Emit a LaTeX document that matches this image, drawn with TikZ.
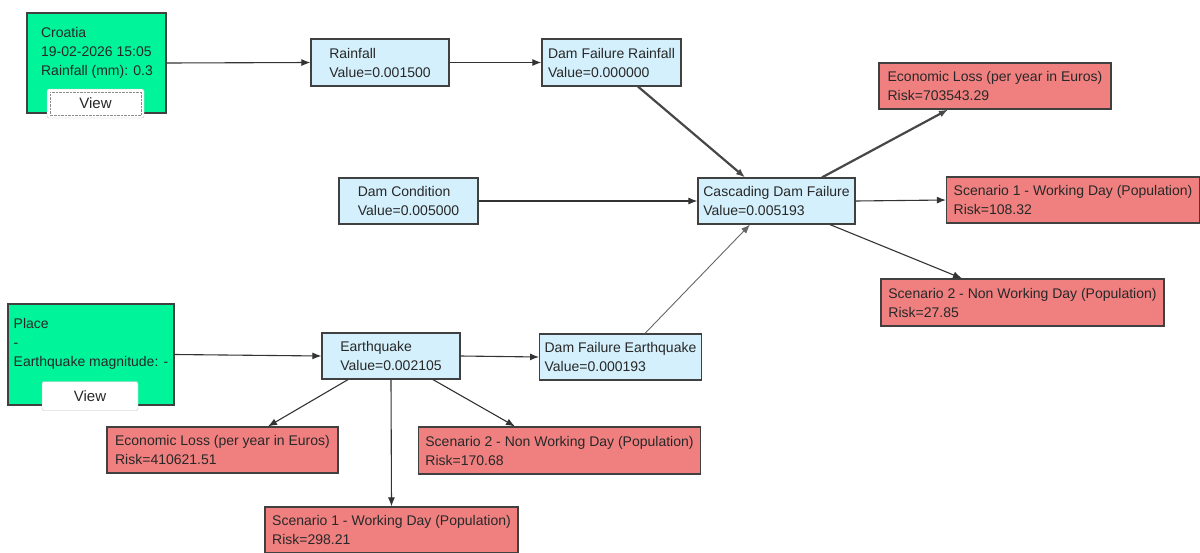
\documentclass[tikz,border=0pt]{standalone}
\usepackage{fontspec}
\setmainfont{Liberation Sans}
\usetikzlibrary{arrows.meta}

\definecolor{inputgreen}{RGB}{0,245,155}
\definecolor{valueblue}{RGB}{212,240,252}
\definecolor{riskred}{RGB}{240,128,128}
\definecolor{boxline}{RGB}{64,64,64}
\definecolor{textgrey}{RGB}{40,40,40}

\begin{document}
\begin{tikzpicture}[x=1pt, y=-1pt,
	every node/.style={font=\fontsize{14}{19}\selectfont, text=textgrey},
	inputbox/.style={draw=boxline, line width=1.2pt, fill=inputgreen, inner sep=0pt},
	valuebox/.style={draw=boxline, line width=1.2pt, fill=valueblue, align=left, minimum height=47pt, minimum width=138pt, inner xsep=5pt},
	riskbox/.style={draw=boxline, line width=1.2pt, fill=riskred, align=left, minimum height=46pt, inner xsep=7pt},
	viewbtn/.style={draw=black!25, fill=white, rounded corners=2pt, minimum height=29pt, font=\fontsize{15}{15}\selectfont},
	link/.style={draw=black!80, line width=1.1pt, -{Latex[length=9pt, width=7pt]}},
	heavylink/.style={link, draw=black!72, line width=2.2pt},
	faintlink/.style={link, draw=black!60, line width=0.9pt}
]
	\useasboundingbox (0,0) rectangle (1200,552);

	% input panels
	\node[inputbox, minimum width=139pt, minimum height=100pt] (croatia) at (96.5, 63) {};
	\node[align=left, anchor=north, inner sep=0pt] (croatiatxt) at (97, 27) {Croatia\\19-02-2026 15:05\\Rainfall (mm): 0.3};
	\node[viewbtn, minimum width=97pt] (viewa) at (95.5, 103.5) {View};
	\draw[densely dotted, black!45] ([shift={(3pt,3pt)}]viewa.south west) rectangle ([shift={(-3pt,-3pt)}]viewa.north east);

	\node[inputbox, minimum width=166pt, minimum height=101pt] (place) at (91, 354.5) {};
	\node[align=left, anchor=north, inner sep=0pt] (placetxt) at (91, 318) {Place\\-\\Earthquake magnitude: -};
	\node[viewbtn, minimum width=96pt] (viewb) at (90, 396) {View};

	% value nodes
	\node[valuebox] (rainfall) at (380, 62.5) {Rainfall\\Value=0.001500};
	\node[valuebox, minimum width=139pt] (dfr) at (611.5, 62.5) {Dam Failure Rainfall\\Value=0.000000};
	\node[valuebox, minimum width=139pt, minimum height=46pt] (damcond) at (408.5, 201) {Dam Condition\\Value=0.005000};
	\node[valuebox, minimum width=157pt, minimum height=46pt] (casc) at (776.5, 201) {Cascading Dam Failure\\Value=0.005193};
	\node[valuebox, minimum height=46pt] (quake) at (391, 356) {Earthquake\\Value=0.002105};
	\node[valuebox, minimum width=161pt, minimum height=46pt] (dfe) at (620.5, 357) {Dam Failure Earthquake\\Value=0.000193};

	% risk nodes
	\node[riskbox, minimum width=232pt] (lossa) at (995, 86) {Economic Loss (per year in Euros)\\Risk=703543.29};
	\node[riskbox, minimum width=253pt] (worka) at (1073, 200) {Scenario 1 - Working Day (Population)\\Risk=108.32};
	\node[riskbox, minimum width=283pt, minimum height=47pt] (nonworka) at (1022.5, 302.5) {Scenario 2 - Non Working Day (Population)\\Risk=27.85};
	\node[riskbox, minimum width=231pt] (lossb) at (222.5, 450) {Economic Loss (per year in Euros)\\Risk=410621.51};
	\node[riskbox, minimum width=281pt, minimum height=47pt] (nonworkb) at (559.5, 450.5) {Scenario 2 - Non Working Day (Population)\\Risk=170.68};
	\node[riskbox, minimum width=253pt] (workb) at (391.5, 530) {Scenario 1 - Working Day (Population)\\Risk=298.21};

	% Draw the edges between nodes
	\draw[link] (croatia.east) -- (rainfall.west);
	\draw[link] (rainfall.east) -- (dfr.west);
	\draw[heavylink] ([xshift=26.5pt]dfr.south) -- ([xshift=-31.5pt]casc.north);
	\draw[link] (damcond.east) -- (casc.west);
	\draw[heavylink] ([xshift=45.5pt]casc.north) -- ([xshift=-47pt]lossa.south);
	\draw[link] (casc.east) -- (worka.west);
	\draw[link] ([xshift=53.5pt]casc.south) -- ([xshift=-60.5pt]nonworka.north);
	\draw[link] (place.east) -- (quake.west);
	\draw[link] (quake.east) -- (dfe.west);
	\draw[faintlink] ([xshift=24.5pt]dfe.north) -- ([xshift=-26.5pt]casc.south);
	\draw[link] ([xshift=-43pt]quake.south) -- ([xshift=45.5pt]lossb.north);
	\draw[link] (quake.south) -- (workb.north);
	\draw[link] ([xshift=42pt]quake.south) -- ([xshift=-44.5pt]nonworkb.north);
\end{tikzpicture}
\end{document}
